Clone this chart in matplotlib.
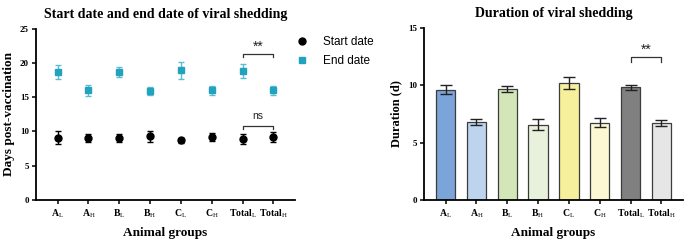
import matplotlib
matplotlib.use("Agg")
import matplotlib.pyplot as plt
from matplotlib.lines import Line2D
import numpy as np

plt.rcParams['mathtext.fontset'] = 'custom'
plt.rcParams['mathtext.rm'] = 'Liberation Serif'
plt.rcParams['mathtext.bf'] = 'Liberation Serif:bold'
plt.rcParams['font.family'] = 'Liberation Serif'

groups = [r'$\mathbf{A}_{\mathrm{L}}$', r'$\mathbf{A}_{\mathrm{H}}$', r'$\mathbf{B}_{\mathrm{L}}$',
          r'$\mathbf{B}_{\mathrm{H}}$', r'$\mathbf{C}_{\mathrm{L}}$', r'$\mathbf{C}_{\mathrm{H}}$',
          r'$\mathbf{Total}_{\mathrm{L}}$', r'$\mathbf{Total}_{\mathrm{H}}$']

start_mean = [9.1, 9.1, 9.0, 9.3, 8.7, 9.2, 8.9, 9.2]
start_err = [0.9, 0.6, 0.6, 0.8, 0.4, 0.6, 0.7, 0.7]
end_mean = [18.7, 16.0, 18.7, 15.9, 18.9, 16.0, 18.8, 16.0]
end_err = [1.0, 0.8, 0.7, 0.6, 1.2, 0.7, 1.0, 0.7]

dur_mean = [9.6, 6.8, 9.7, 6.55, 10.2, 6.75, 9.82, 6.73]
dur_err = [0.4, 0.3, 0.28, 0.48, 0.55, 0.42, 0.23, 0.25]
bar_colors = ['#7ba4d8', '#bdd3ee', '#d3e6b8', '#e8f1dc', '#f6f09c', '#fcf8d3', '#808080', '#e6e6e6']

fig = plt.figure(figsize=(6.85, 2.42), dpi=100)
ax1 = fig.add_axes([0.0526, 0.1736, 0.378, 0.708])
ax2 = fig.add_axes([0.619, 0.1736, 0.378, 0.711])

x = np.arange(len(groups))
cyan = '#22a3bd'

ax1.errorbar(x, start_mean, yerr=start_err, fmt='o', color='black', ms=5,
             capsize=2.5, elinewidth=1, capthick=1)
ax1.errorbar(x, end_mean, yerr=end_err, fmt='s', color=cyan, ecolor='#5cbdd0', ms=5,
             capsize=2.5, elinewidth=1, capthick=1)

def bracket(ax, x0, x1, y, drop, txt, ty, fs):
    ax.plot([x0, x0, x1, x1], [y - drop, y, y, y - drop], color='#333333', lw=0.9)
    ax.text((x0 + x1) / 2, ty, txt, ha='center', va='center', fontsize=fs,
            family='Liberation Sans', color='#222222')

bracket(ax1, 6, 7, 21.3, 0.4, '**', 22.4, 10)
bracket(ax1, 6, 7, 10.8, 0.4, 'ns', 12.2, 7.5)

ax1.set_xlim(-0.7, 7.7)
ax1.set_ylim(0, 25)
ax1.set_yticks([0, 5, 10, 15, 20, 25])

ax2.bar(x, dur_mean, width=0.63, color=bar_colors, edgecolor='#3c3c3c', linewidth=0.9)
ax2.errorbar(x, dur_mean, yerr=dur_err, fmt='none', ecolor='#222222', capsize=4,
             elinewidth=1, capthick=1)
bracket(ax2, 6, 7, 12.45, 0.45, '**', 13.1, 10)
ax2.set_xlim(-0.7, 7.7)
ax2.set_ylim(0, 15)
ax2.set_yticks([0, 5, 10, 15])

for ax in (ax1, ax2):
    ax.spines['top'].set_visible(False)
    ax.spines['right'].set_visible(False)
    ax.spines['left'].set_linewidth(1.3)
    ax.spines['bottom'].set_linewidth(1.3)
    ax.set_xticks(x)
    ax.set_xticklabels(groups, fontsize=7)
    ax.tick_params(axis='both', direction='out', length=3, width=1.1, pad=2)
    for lab in ax.get_yticklabels():
        lab.set_fontsize(6.5)
        lab.set_fontweight('bold')
    ax.set_xlabel('Animal groups', fontsize=9.5, fontweight='bold', labelpad=5)

ax1.set_ylabel('Days post-vaccination', fontsize=9.5, fontweight='bold', labelpad=4)
ax2.set_ylabel('Duration (d)', fontsize=9, fontweight='bold', labelpad=4)
ax1.set_title('Start date and end date of viral shedding', fontsize=10, fontweight='bold', pad=8)
ax2.set_title('Duration of viral shedding', fontsize=10, fontweight='bold', pad=8)

handles = [Line2D([], [], ls='none', marker='o', color='black', ms=5),
           Line2D([], [], ls='none', marker='s', color=cyan, ms=5)]
fig.legend(handles=handles, labels=['Start date', 'End date'], loc='upper left',
           bbox_to_anchor=(0.417, 0.895), frameon=False,
           prop={'family': 'Liberation Sans', 'size': 8.5}, handlelength=1.0,
           handletextpad=1.3, labelspacing=0.6)

fig.savefig('out.png', dpi=100)
